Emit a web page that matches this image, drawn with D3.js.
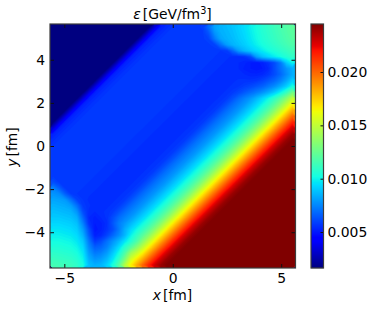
<!DOCTYPE html>
<html>
<head>
<meta charset="utf-8">
<script src="https://cdn.jsdelivr.net/npm/d3@7"></script>
<style>
    html, body { margin: 0; padding: 0; background: #fff; }
    svg { display: block; }
    text { font-family: "DejaVu Sans", sans-serif; fill: #000; }
</style>
</head>
<body>
<svg id="chart" width="374" height="311"></svg>
<script>
// energy density, units of 1e-4 GeV/fm^3
// rows go top (y = +5.65) to bottom (y = -5.65), columns left to right
var energyRows = [
    [16,16,16,16,16,16,16,16,16,16,16,16,16,16,16,16,16,34,52,55,57,57,58,58,58,59,70,82,85,87,89,92,95,99,103,107,110,113,116,119,122],
    [16,16,16,16,16,16,16,16,16,16,16,16,16,16,16,16,34,52,55,57,57,58,58,58,58,58,64,78,84,86,88,91,94,98,102,106,109,112,115,118,121],
    [16,16,16,16,16,16,16,16,16,16,16,16,16,16,16,34,52,55,57,57,58,58,58,58,58,58,60,72,82,85,87,90,93,97,101,105,108,111,114,117,120],
    [16,16,16,16,16,16,16,16,16,16,16,16,16,16,34,52,55,57,57,58,58,58,58,58,58,58,58,60,70,80,85,88,91,95,99,103,106,109,112,115,118],
    [16,16,16,16,16,16,16,16,16,16,16,16,16,34,52,55,57,57,58,58,58,58,58,58,58,58,57,57,57,58,68,80,86,90,94,98,102,105,108,111,114],
    [16,16,16,16,16,16,16,16,16,16,16,16,34,52,55,57,57,58,58,58,58,58,58,58,58,57,57,57,56,56,55,55,56,62,80,88,93,98,102,106,110],
    [16,16,16,16,16,16,16,16,16,16,16,34,52,55,57,57,58,58,58,58,58,58,58,58,57,57,57,56,56,55,55,54,53,51,50,52,56,62,72,90,100],
    [16,16,16,16,16,16,16,16,16,16,34,52,55,57,57,58,58,58,58,58,58,58,58,57,57,57,56,56,55,55,54,54,52,51,50,51,54,62,70,78,84],
    [16,16,16,16,16,16,16,16,16,34,52,55,57,57,58,58,58,58,58,58,58,58,57,57,57,56,56,55,55,54,54,54,54,53,53,54,57,62,68,76,84],
    [16,16,16,16,16,16,16,16,34,52,55,57,57,58,58,58,58,58,58,58,58,57,57,57,56,56,55,55,54,54,55,56,56,56,57,60,64,68,74,82,92],
    [16,16,16,16,16,16,16,34,52,55,57,57,58,58,58,58,58,58,58,58,57,57,57,56,56,55,55,54,54,55,56,57,59,61,64,67,72,77,84,92,104],
    [16,16,16,16,16,16,34,52,55,57,57,58,58,58,58,58,58,58,58,57,57,57,56,56,55,55,54,54,55,56,58,61,65,69,73,78,84,91,100,112,128],
    [16,16,16,16,16,34,52,55,57,57,58,58,58,58,58,58,58,58,57,57,57,56,56,55,55,54,54,55,56,58,63,69,74,79,86,93,101,110,121,134,150],
    [16,16,16,16,34,52,55,57,57,58,58,58,58,58,58,58,58,57,57,57,56,56,55,55,54,54,55,56,58,63,69,74,79,86,93,101,110,121,134,150,166],
    [16,16,16,34,52,55,57,57,58,58,58,58,58,58,58,58,57,57,57,56,56,55,55,54,54,55,56,58,63,69,74,79,86,93,101,110,121,134,150,166,183],
    [16,16,34,52,55,57,57,58,58,58,58,58,58,58,58,57,57,57,56,56,55,55,54,54,55,56,58,63,69,74,79,86,93,101,110,121,134,150,166,183,200],
    [16,34,52,55,57,57,58,58,58,58,58,58,58,58,57,57,57,56,56,55,55,54,54,55,56,58,63,69,74,79,86,93,101,110,121,134,150,166,183,200,216],
    [34,52,55,57,57,58,58,58,58,58,58,58,58,57,57,57,56,56,55,55,54,54,55,56,58,63,69,74,79,86,93,101,110,121,134,150,166,183,200,216,230],
    [52,55,57,57,58,58,58,58,58,58,58,58,57,57,57,56,56,55,55,54,54,55,56,58,63,69,74,79,86,93,101,110,121,134,150,166,183,200,216,230,240],
    [55,57,57,58,58,58,58,58,58,58,58,57,57,57,56,56,55,55,54,54,55,56,58,63,69,74,79,86,93,101,110,121,134,150,166,183,200,216,230,240,245],
    [57,57,58,58,58,58,58,58,58,58,57,57,57,56,56,55,55,54,54,55,56,58,63,69,74,79,86,93,101,110,121,134,150,166,183,200,216,230,240,245,245],
    [57,58,58,58,58,58,58,58,58,57,57,57,56,56,55,55,54,54,55,56,58,63,69,74,79,86,93,101,110,121,134,150,166,183,200,216,230,240,245,245,245],
    [58,58,58,58,58,58,58,58,57,57,57,56,56,55,55,54,54,55,56,58,63,69,74,79,86,93,101,110,121,134,150,166,183,200,216,230,240,245,245,245,245],
    [58,58,58,58,58,58,58,57,57,57,56,56,55,55,54,54,55,56,58,63,69,74,79,86,93,101,110,121,134,150,166,183,200,216,230,240,245,245,245,245,245],
    [58,58,58,58,58,58,57,57,57,56,56,55,55,54,54,55,56,58,63,69,74,79,86,93,101,110,121,134,150,166,183,200,216,230,240,245,245,245,245,245,245],
    [58,58,58,58,58,57,57,57,56,56,55,55,54,54,55,56,58,63,69,74,79,86,93,101,110,121,134,150,166,183,200,216,230,240,245,245,245,245,245,245,245],
    [62,58,58,58,57,57,57,56,56,55,55,54,54,55,56,58,63,69,74,79,86,93,101,110,121,134,150,166,183,200,216,230,240,245,245,245,245,245,245,245,245],
    [74,66,58,57,57,57,56,56,55,55,54,54,55,56,58,63,69,74,79,86,93,101,110,121,134,150,166,183,200,216,230,240,245,245,245,245,245,245,245,245,245],
    [78,76,66,58,57,56,56,55,55,54,54,55,56,58,63,69,74,79,86,93,101,110,121,134,150,166,183,200,216,230,240,245,245,245,245,245,245,245,245,245,245],
    [82,81,79,70,60,57,55,55,54,54,55,56,58,63,69,74,79,86,93,101,110,121,134,150,166,183,200,216,230,240,245,245,245,245,245,245,245,245,245,245,245],
    [85,84,83,80,70,58,56,54,54,55,56,58,63,69,74,79,86,93,101,110,121,134,150,166,183,200,216,230,240,245,245,245,245,245,245,245,245,245,245,245,245],
    [88,87,86,85,78,62,55,54,55,56,58,63,69,74,79,86,93,101,110,121,134,150,166,183,200,216,230,240,245,245,245,245,245,245,245,245,245,245,245,245,245],
    [90,90,89,88,84,68,54,52,54,56,62,69,74,79,86,93,101,110,121,134,150,166,183,200,216,230,240,245,245,245,245,245,245,245,245,245,245,245,245,245,245],
    [93,93,92,91,88,74,56,51,52,55,64,73,79,86,93,101,110,121,134,150,166,183,200,216,230,240,245,245,245,245,245,245,245,245,245,245,245,245,245,245,245],
    [96,96,95,94,91,80,62,50,52,56,62,72,84,93,101,110,121,134,150,166,183,200,216,230,240,245,245,245,245,245,245,245,245,245,245,245,245,245,245,245,245],
    [99,99,98,97,94,85,66,52,54,60,68,76,86,99,110,121,134,150,166,183,200,216,230,240,245,245,245,245,245,245,245,245,245,245,245,245,245,245,245,245,245],
    [102,102,101,100,97,90,72,58,62,70,78,86,96,106,118,134,150,166,183,200,216,230,240,245,245,245,245,245,245,245,245,245,245,245,245,245,245,245,245,245,245],
    [105,105,104,103,100,94,76,66,68,74,84,94,108,120,134,150,166,183,200,216,230,240,245,245,245,245,245,245,245,245,245,245,245,245,245,245,245,245,245,245,245],
    [109,108,107,106,103,97,80,72,74,80,90,102,118,140,152,166,183,200,216,230,240,245,245,245,245,245,245,245,245,245,245,245,245,245,245,245,245,245,245,245,245],
    [112,111,110,109,106,100,84,78,80,86,96,110,130,155,168,183,200,216,230,240,245,245,245,245,245,245,245,245,245,245,245,245,245,245,245,245,245,245,245,245,245],
    [115,114,113,112,109,103,88,84,86,92,104,120,146,166,183,200,216,230,240,245,245,245,245,245,245,245,245,245,245,245,245,245,245,245,245,245,245,245,245,245,245]
];
var xTicks = [-5, 0, 5];
var yTicks = [-4, -2, 0, 2, 4];
var cbarTicks = [0.005, 0.010, 0.015, 0.020];
var extentFm = [-5.66, 5.66];
var cbarRange = [0.00163, 0.0245];

// matplotlib jet, one piecewise scale per channel
var jetR = d3.scaleLinear().domain([0, 0.35, 0.66, 0.89, 1]).range([0, 0, 255, 255, 128]);
var jetG = d3.scaleLinear().domain([0, 0.125, 0.375, 0.64, 0.91, 1]).range([0, 0, 255, 255, 0, 0]);
var jetB = d3.scaleLinear().domain([0, 0.11, 0.34, 0.65, 1]).range([128, 255, 255, 0, 0]);

var svg = d3.select("#chart");
var margin = {top: 24, left: 50, bottom: 268, right: 295.5};
var barLeft = 311, barRight = 323.5;
var frameColor = "#3c3c3c";
var fontSize = 13.9;

var x = d3.scaleLinear().domain(extentFm).range([margin.left, margin.right]);
var y = d3.scaleLinear().domain(extentFm).range([margin.bottom, margin.top]);
var cbarY = d3.scaleLinear().domain(cbarRange).range([margin.bottom, margin.top]);
var level = d3.scaleLinear().domain(cbarRange).range([0, 1]).clamp(true);

function jet(value) {
    var t = level(value);
    return d3.rgb(jetR(t), jetG(t), jetB(t)).formatRgb();
}

// heat map as stacked filled contours
var nRows = energyRows.length, nCols = energyRows[0].length;
var flat = d3.merge(energyRows);
var gridX = d3.scaleLinear().domain([0, nCols]).range([margin.left, margin.right]);
var gridY = d3.scaleLinear().domain([0, nRows]).range([margin.top, margin.bottom]);
var gridPath = d3.geoPath(d3.geoTransform({
    point: function(a, b) { this.stream.point(gridX(a), gridY(b)); }
}));
var step = 1.5;
var contours = d3.contours().size([nCols, nRows]).thresholds(d3.range(16.5, 245, step))(flat);

svg.append("rect")
    .attr("x", margin.left)
    .attr("y", margin.top)
    .attr("width", margin.right - margin.left)
    .attr("height", margin.bottom - margin.top)
    .attr("fill", jet(cbarRange[0]));

svg.append("g").selectAll("path")
    .data(contours)
    .enter().append("path")
    .attr("d", gridPath)
    .attr("fill", function(d) { return jet((d.value + step / 2) * 1e-4); });

// colour bar
var barLevels = d3.range(0, 244);
svg.append("g").selectAll("rect")
    .data(barLevels)
    .enter().append("rect")
    .attr("x", barLeft)
    .attr("width", barRight - barLeft)
    .attr("y", function(d) { return margin.top + d; })
    .attr("height", 1.2)
    .attr("fill", function(d) { return jet(cbarY.invert(margin.top + d + 0.5)); });

// axes
function styleAxis(g) {
    g.select(".domain").remove();
    g.selectAll("line").attr("stroke", "#111").attr("stroke-width", 1);
    g.selectAll("text").attr("font-size", fontSize).attr("font-family", "DejaVu Sans").attr("fill", "#000");
}

svg.append("g")
    .attr("transform", "translate(0," + margin.bottom + ")")
    .call(d3.axisBottom(x).tickValues(xTicks).tickSize(-4).tickPadding(5).tickFormat(d3.format("d")))
    .call(styleAxis);
svg.append("g")
    .attr("transform", "translate(0," + margin.top + ")")
    .call(d3.axisTop(x).tickValues(xTicks).tickSize(-4).tickFormat(""))
    .call(styleAxis);
svg.append("g")
    .attr("transform", "translate(" + margin.left + ",0)")
    .call(d3.axisLeft(y).tickValues(yTicks).tickSize(-4).tickPadding(5).tickFormat(d3.format("d")))
    .call(styleAxis);
svg.append("g")
    .attr("transform", "translate(" + margin.right + ",0)")
    .call(d3.axisRight(y).tickValues(yTicks).tickSize(-4).tickFormat(""))
    .call(styleAxis);
svg.append("g")
    .attr("transform", "translate(" + barRight + ",0)")
    .call(d3.axisRight(cbarY).tickValues(cbarTicks).tickSize(-3).tickPadding(4).tickFormat(d3.format(".3f")))
    .call(styleAxis);

// frames
[[margin.left, margin.right], [barLeft, barRight]].forEach(function(f) {
    svg.append("rect")
        .attr("x", f[0])
        .attr("y", margin.top)
        .attr("width", f[1] - f[0])
        .attr("height", margin.bottom - margin.top)
        .attr("fill", "none")
        .attr("stroke", frameColor)
        .attr("stroke-width", 1.2);
});

// labels
var title = svg.append("text")
    .attr("x", 172.5)
    .attr("y", 19)
    .attr("text-anchor", "middle")
    .attr("font-size", fontSize);
title.append("tspan").attr("font-style", "italic").text("ε");
title.append("tspan").attr("dx", 2).text("[GeV/fm");
title.append("tspan").attr("dy", -5).attr("font-size", 9.7).text("3");
title.append("tspan").attr("dy", 5).text("]");

var xLabel = svg.append("text")
    .attr("x", 172.5)
    .attr("y", 300)
    .attr("text-anchor", "middle")
    .attr("font-size", fontSize);
xLabel.append("tspan").attr("font-style", "italic").text("x");
xLabel.append("tspan").attr("dx", 2).text("[fm]");

var yLabel = svg.append("text")
    .attr("transform", "translate(17,147) rotate(-90)")
    .attr("text-anchor", "middle")
    .attr("font-size", fontSize);
yLabel.append("tspan").attr("font-style", "italic").text("y");
yLabel.append("tspan").attr("dx", 2).text("[fm]");
</script>
</body>
</html>
